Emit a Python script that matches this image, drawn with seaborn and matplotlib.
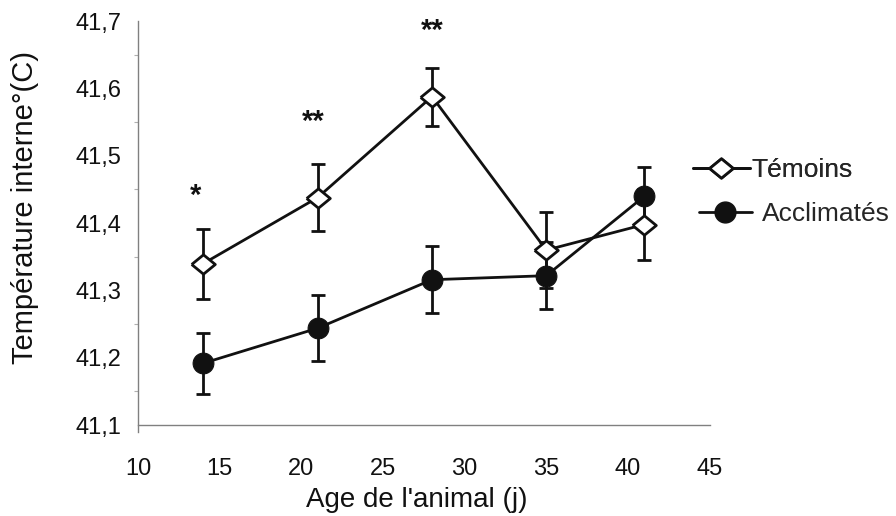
import matplotlib
matplotlib.use("Agg")
import matplotlib.pyplot as plt
import seaborn as sns
import pandas as pd
from matplotlib.ticker import FuncFormatter, MultipleLocator
from matplotlib.lines import Line2D

# values
ages = [14, 21, 28, 35, 41]
temoins = [41.34, 41.438, 41.588, 41.36, 41.398]
temoins_err = [0.052, 0.050, 0.043, 0.057, 0.052]
acclimates = [41.192, 41.244, 41.316, 41.322, 41.44]
acclimates_err = [0.045, 0.049, 0.050, 0.050, 0.044]
stars = ["*", "**", "**"]
star_x = [13.5, 20.7, 28]
star_y = [41.44, 41.55, 41.685]

sns.set_style("white")
plt.rcParams['font.family'] = ['Liberation Sans', 'DejaVu Sans']

fig = plt.figure(figsize=(8.96, 5.16), dpi=100)
ax = fig.add_axes([0.154, 0.163, 0.638, 0.796])

df = pd.DataFrame({
    "age": ages * 2,
    "temp": temoins + acclimates,
    "groupe": ["Témoins"] * len(ages) + ["Acclimatés"] * len(ages),
})

diamond = [(-1, 0), (0, 0.82), (1, 0), (0, -0.82), (-1, 0)]
ink = "#111111"

# error bars first
ax.errorbar(ages, temoins, yerr=temoins_err, fmt="none", ecolor=ink,
            elinewidth=2.0, capsize=5, capthick=2.0, zorder=2)
ax.errorbar(ages, acclimates, yerr=acclimates_err, fmt="none", ecolor=ink,
            elinewidth=2.0, capsize=5, capthick=2.0, zorder=2)

sns.lineplot(data=df[df.groupe == "Témoins"], x="age", y="temp", ax=ax,
             color=ink, linewidth=2.0, marker=diamond, markersize=17,
             markerfacecolor="white", markeredgecolor=ink,
             markeredgewidth=2.0, zorder=3, legend=False)
sns.lineplot(data=df[df.groupe == "Acclimatés"], x="age", y="temp", ax=ax,
             color=ink, linewidth=2.0, marker="o", markersize=15,
             markerfacecolor=ink, markeredgecolor=ink,
             zorder=4, legend=False)

for s, xs, ys in zip(stars, star_x, star_y):
    ax.text(xs, ys, s, ha="center", va="center", fontsize=21,
            fontweight="bold", color=ink)

ax.set_xlim(10, 45)
ax.set_ylim(41.09, 41.7)
ax.set_xticks(range(10, 46, 5))
ax.yaxis.set_major_locator(MultipleLocator(0.1))
ax.yaxis.set_minor_locator(MultipleLocator(0.05))
ax.yaxis.set_major_formatter(FuncFormatter(lambda v, p: f"{v:.1f}".replace(".", ",")))

for side in ["top", "right"]:
    ax.spines[side].set_visible(False)
ax.spines["bottom"].set_position(("data", 41.1))
for side in ["left", "bottom"]:
    ax.spines[side].set_color("#808080")
    ax.spines[side].set_linewidth(1.0)

ax.tick_params(axis="both", which="major", direction="out", length=9, width=1,
               color="#808080", labelsize=17, labelcolor=ink)
ax.tick_params(axis="y", which="minor", direction="out", length=3, width=0.8,
               color="#b0b0b0", left=True)
ax.tick_params(axis="x", pad=15)
ax.tick_params(axis="y", pad=3)

ax.set_xlabel("")
ax.set_ylabel("")
fig.text(417 / 896, 1 - 500 / 516, "Age de l'animal (j)", fontsize=20,
         color=ink, ha="center", va="center")
fig.text(25 / 896, 1 - 208 / 516, "Température interne°(C)", fontsize=21,
         color=ink, ha="center", va="center", rotation=90)

# two legend entries, placed separately as in the original
h_tem = Line2D([], [], color=ink, linewidth=2.0, marker=diamond, markersize=17,
               markerfacecolor="white", markeredgecolor=ink, markeredgewidth=2.0)
h_acc = Line2D([], [], color=ink, linewidth=2.0, marker="o", markersize=15,
               markerfacecolor=ink, markeredgecolor=ink)
leg1 = fig.legend([h_tem], ["Témoins"], loc="center left",
                  bbox_to_anchor=(693 / 896, 1 - 170 / 516), frameon=False,
                  fontsize=19, handlelength=2.15, handletextpad=0.08,
                  borderpad=0, borderaxespad=0)
fig.add_artist(leg1)
fig.legend([h_acc], ["Acclimatés"], loc="center left",
           bbox_to_anchor=(699 / 896, 1 - 214 / 516), frameon=False,
           fontsize=19, handlelength=2.0, handletextpad=0.4,
           borderpad=0, borderaxespad=0)

fig.savefig("out.png", dpi=100)
